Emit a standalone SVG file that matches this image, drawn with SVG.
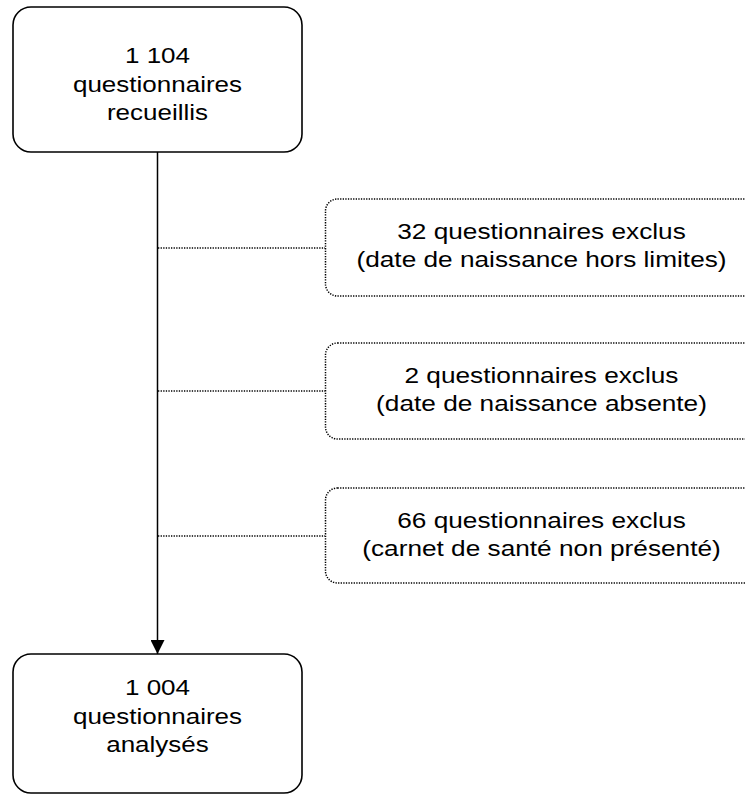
<svg xmlns="http://www.w3.org/2000/svg" width="745" height="796" viewBox="0 0 745 796">
<defs>
<style>
.solid{fill:#fff;stroke:#000;stroke-width:1.6}
.dotted{fill:#fff;stroke:#000;stroke-width:1.5;stroke-dasharray:1.3 1.3}
.conn{fill:none;stroke:#000;stroke-width:1.5}
.dconn{fill:none;stroke:#000;stroke-width:1.5;stroke-dasharray:1.3 1.3}
text{font-family:"Liberation Sans",Arial,sans-serif;font-size:21.5px;fill:#000;text-anchor:middle}
</style>
<marker id="arrow" markerWidth="15" markerHeight="14" refX="14" refY="7" orient="auto" markerUnits="userSpaceOnUse">
<path d="M0,0 L14,7 L0,14 Z" fill="#000"/>
</marker>
</defs>
<rect width="745" height="796" fill="#fff"/>
<g id="connectors">
<line class="conn" x1="157.5" y1="152" x2="157.5" y2="654" marker-end="url(#arrow)"/>
<line class="dconn" x1="158" y1="248" x2="325" y2="248"/>
<line class="dconn" x1="158" y1="391" x2="325" y2="391"/>
<line class="dconn" x1="158" y1="536" x2="325" y2="536"/>
</g>
<g id="n1">
<rect class="solid" x="13" y="7" width="289" height="145" rx="18" ry="18"/>
<g transform="translate(157.5,0) scale(1.21,1)">
<text x="0" y="63">1 104</text>
<text x="0" y="92">questionnaires</text>
<text x="0" y="120">recueillis</text>
</g>
</g>
<g id="e1">
<rect class="dotted" x="325.5" y="199" width="440" height="97" rx="12" ry="12"/>
<g transform="translate(541.5,0) scale(1.22,1)">
<text x="0" y="239">32 questionnaires exclus</text>
<text x="0" y="267">(date de naissance hors limites)</text>
</g>
</g>
<g id="e2">
<rect class="dotted" x="325.5" y="343" width="440" height="96" rx="12" ry="12"/>
<g transform="translate(541.5,0) scale(1.22,1)">
<text x="0" y="383">2 questionnaires exclus</text>
<text x="0" y="411">(date de naissance absente)</text>
</g>
</g>
<g id="e3">
<rect class="dotted" x="325.5" y="488" width="440" height="95" rx="12" ry="12"/>
<g transform="translate(541.5,0) scale(1.22,1)">
<text x="0" y="528">66 questionnaires exclus</text>
<text x="0" y="556">(carnet de santé non présenté)</text>
</g>
</g>
<g id="n2">
<rect class="solid" x="13" y="654" width="289" height="139" rx="18" ry="18"/>
<g transform="translate(157.5,0) scale(1.21,1)">
<text x="0" y="695">1 004</text>
<text x="0" y="724">questionnaires</text>
<text x="0" y="752">analysés</text>
</g>
</g>
</svg>
